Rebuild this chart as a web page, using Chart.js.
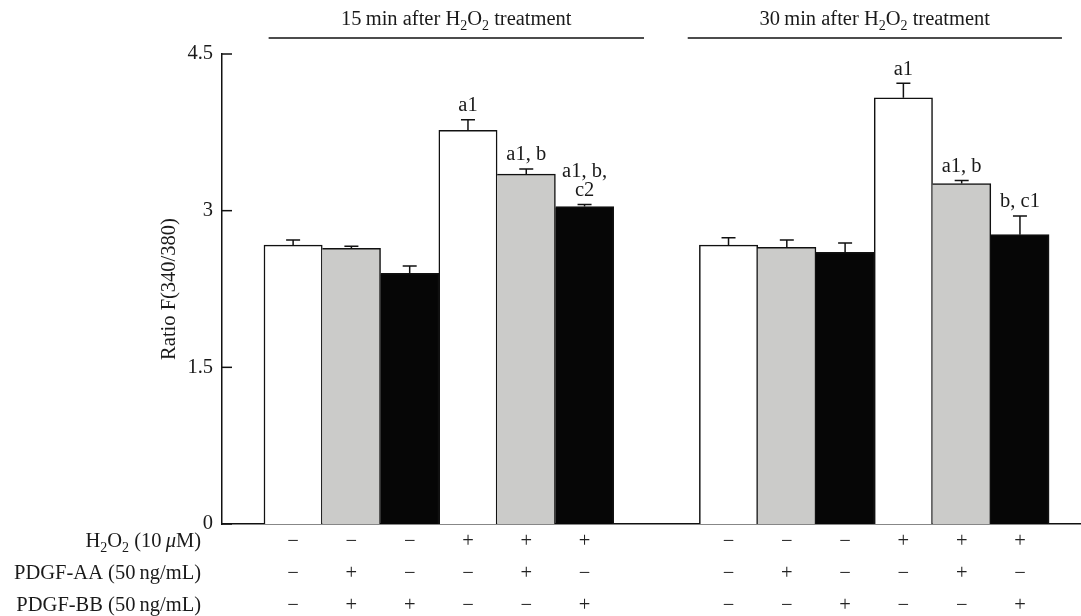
<!DOCTYPE html>
<html>
<head>
<meta charset="utf-8">
<script src="https://cdn.jsdelivr.net/npm/chart.js@4.4.0/dist/chart.umd.min.js"></script>
<style>
  html, body { margin: 0; padding: 0; background: #fff; }
  #wrap { width: 1081px; height: 616px; position: relative; }
</style>
</head>
<body>
<div id="wrap"><canvas id="myChart"></canvas></div>
<script>
const groupTitles = ['15\u2009min after H2O2 treatment', '30\u2009min after H2O2 treatment'];
const values15 = [2.67, 2.64, 2.40, 3.77, 3.35, 3.04];
const errors15 = [0.05, 0.02, 0.07, 0.10, 0.05, 0.02];
const values30 = [2.67, 2.65, 2.60, 4.08, 3.26, 2.77];
const errors30 = [0.07, 0.07, 0.09, 0.14, 0.03, 0.18];
const sig15 = ['', '', '', 'a1', 'a1, b', 'a1, b,|c2'];
const sig30 = ['', '', '', 'a1', 'a1, b', 'b, c1'];
const h2o2Row = ['−', '−', '−', '+', '+', '+', '−', '−', '−', '+', '+', '+'];
const aaRow   = ['−', '+', '−', '−', '+', '−', '−', '+', '−', '−', '+', '−'];
const bbRow   = ['−', '+', '+', '−', '−', '+', '−', '−', '+', '−', '−', '+'];
const yTicks = [0, 1.5, 3, 4.5];

const FONT = '"Liberation Serif", "DejaVu Serif", serif';
const FS = 20.5;
const fills = ['#ffffff', '#cbcbc9', '#060606'];
// white bars outlined both sides, grey/black only on the right, so shared edges get one line
const edges = [
  { top: 1.5, left: 1.5, right: 1.5, bottom: 0 },
  { top: 1.5, left: 0, right: 1.5, bottom: 0 },
  { top: 1.5, left: 0, right: 1.5, bottom: 0 }
];

// bar slots: 6 per group, gap between groups
const START = 0.72, GAP = 1.47, XMAX = 14.72;
const values = values15.concat(values30);
const errors = errors15.concat(errors30);
const sigs = sig15.concat(sig30);
const slots = values.map((v, i) => START + 0.5 + i + (i >= 6 ? GAP : 0));

// "2" after H/O becomes subscript, μ goes italic
function richSegs(str) {
  const segs = [];
  let buf = '';
  for (let k = 0; k < str.length; k++) {
    const c = str[k];
    if (c === '2' && (str[k - 1] === 'H' || str[k - 1] === 'O')) {
      if (buf) segs.push([buf, 'n']); buf = '';
      segs.push(['2', 's']);
    } else if (c === 'μ') {
      if (buf) segs.push([buf, 'n']); buf = '';
      segs.push(['μ', 'i']);
    } else buf += c;
  }
  if (buf) segs.push([buf, 'n']);
  return segs;
}
function segFont(kind) {
  if (kind === 's') return Math.round(FS * 0.68) + 'px ' + FONT;
  if (kind === 'i') return 'italic ' + FS + 'px ' + FONT;
  return FS + 'px ' + FONT;
}
function drawRich(ctx, str, x, yMid, align) {
  const segs = richSegs(str);
  let w = 0;
  segs.forEach(s => { ctx.font = segFont(s[1]); w += ctx.measureText(s[0]).width; });
  let cx = align === 'right' ? x - w : align === 'center' ? x - w / 2 : x;
  const base = yMid + FS * 0.33;
  ctx.textBaseline = 'alphabetic';
  ctx.textAlign = 'left';
  segs.forEach(s => {
    ctx.font = segFont(s[1]);
    ctx.fillText(s[0], cx, s[1] === 's' ? base + 5 : base);
    cx += ctx.measureText(s[0]).width;
  });
}

const extras = {
  id: 'extras',
  afterDatasetsDraw(chart) {
    const ctx = chart.ctx, xs = chart.scales.x, ys = chart.scales.y;
    ctx.save();
    ctx.strokeStyle = '#111';
    ctx.fillStyle = '#1a1a1a';
    ctx.lineWidth = 1.5;
    // error bars + significance letters
    values.forEach((v, i) => {
      const x = xs.getPixelForValue(slots[i]);
      const y0 = ys.getPixelForValue(v), y1 = ys.getPixelForValue(v + errors[i]);
      ctx.beginPath();
      ctx.moveTo(x, y0); ctx.lineTo(x, y1);
      ctx.moveTo(x - 7, y1); ctx.lineTo(x + 7, y1);
      ctx.stroke();
      if (sigs[i]) {
        const lines = sigs[i].split('|');
        ctx.font = FS + 'px ' + FONT;
        ctx.textAlign = 'center';
        ctx.textBaseline = 'middle';
        lines.forEach((t, j) => {
          ctx.fillText(t, x, y1 - 14 - (lines.length - 1 - j) * 19);
        });
      }
    });
    // inward y ticks
    yTicks.forEach(t => {
      const y = ys.getPixelForValue(t);
      ctx.beginPath();
      ctx.moveTo(xs.left, y); ctx.lineTo(xs.left + 10, y);
      ctx.stroke();
    });
    // group headers
    [[0.80, 7.24], [7.99, 14.41]].forEach((r, g) => {
      const a = xs.getPixelForValue(r[0]), b = xs.getPixelForValue(r[1]);
      ctx.beginPath();
      ctx.moveTo(a, 38); ctx.lineTo(b, 38);
      ctx.stroke();
      drawRich(ctx, groupTitles[g], (a + b) / 2, 18, 'center');
    });
    // treatment row labels
    ['H2O2 (10\u2009μM)', 'PDGF-AA (50\u2009ng/mL)', 'PDGF-BB (50\u2009ng/mL)'].forEach((t, j) => {
      drawRich(ctx, t, 201, xs.top + 16 + j * 32, 'right');
    });
    ctx.restore();
  }
};

new Chart(document.getElementById('myChart'), {
  type: 'bar',
  data: {
    datasets: [{
      data: values.map((v, i) => ({ x: slots[i], y: v })),
      backgroundColor: values.map((v, i) => fills[i % 3]),
      borderColor: '#111',
      borderWidth: values.map((v, i) => edges[i % 3]),
      borderSkipped: 'start',
      barPercentage: 1,
      categoryPercentage: 1
    }]
  },
  options: {
    responsive: true,
    maintainAspectRatio: false,
    animation: false,
    layout: { padding: { left: 0, right: 1, top: 54, bottom: 0 } },
    plugins: { legend: { display: false }, tooltip: { enabled: false } },
    scales: {
      x: {
        type: 'linear',
        min: 0,
        max: XMAX,
        offset: false,
        grid: { display: false, drawTicks: false },
        border: { display: true, color: '#111', width: 1.5 },
        afterBuildTicks: s => { s.ticks = slots.map(v => ({ value: v })); },
        afterFit: s => { s.height = 92; },
        ticks: {
          autoSkip: false,
          maxRotation: 0,
          padding: 2,
          color: '#222',
          font: { family: FONT, size: FS, lineHeight: 32 / FS },
          callback: (v, i) => [h2o2Row[i], aaRow[i], bbRow[i]]
        }
      },
      y: {
        min: 0,
        max: 4.5,
        grid: { display: false, drawTicks: false },
        border: { display: true, color: '#111', width: 1.5 },
        afterBuildTicks: s => { s.ticks = yTicks.map(v => ({ value: v })); },
        afterFit: s => { s.width = 222; },
        ticks: {
          padding: 9,
          color: '#1a1a1a',
          font: { family: FONT, size: FS },
          callback: v => String(v)
        },
        title: {
          display: true,
          text: 'Ratio F(340/380)',
          color: '#1a1a1a',
          font: { family: FONT, size: FS },
          padding: { top: 157, bottom: 0 }
        }
      }
    }
  },
  plugins: [extras]
});
</script>
</body>
</html>
